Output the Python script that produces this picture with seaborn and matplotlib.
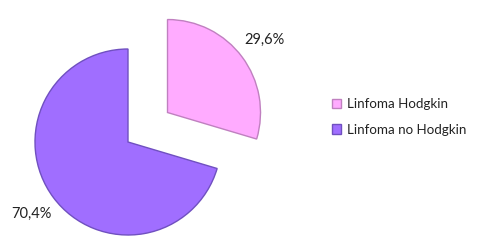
import matplotlib
matplotlib.use("Agg")
import matplotlib.pyplot as plt
import seaborn as sns

categories = ["Linfoma Hodgkin", "Linfoma no Hodgkin"]
values = [29.6, 70.4]
colors = ["#FFABFF", "#A06EFF"]
edges = ["#C080C0", "#7050C0"]

sns.set_theme(style="white")
plt.rcParams["font.family"] = ["Lato", "DejaVu Sans"]

W, H = 483, 248
fig = plt.figure(figsize=(W / 100, H / 100), dpi=100)
ax = fig.add_axes([0, 0, 1, 1])

r_px = 93.0
cx, cy = 128.0, 142.0

wedges, texts, autotexts = ax.pie(
    values,
    colors=colors,
    startangle=90,
    counterclock=False,
    explode=[0.53, 0.0],
    autopct=lambda p: f"{p:.1f}%".replace(".", ","),
    pctdistance=1.3,
    radius=1.0,
    frame=True,
    wedgeprops=dict(linewidth=1.0),
    textprops=dict(fontsize=10.5, color="#222222"),
)
for w, e in zip(wedges, edges):
    w.set_edgecolor(e)
ax.set_xlim(-cx / r_px, (W - cx) / r_px)
ax.set_ylim(-(H - cy) / r_px, cy / r_px)
ax.set_aspect("auto")
ax.set_axis_off()

leg = ax.legend(
    wedges, categories,
    loc="center left",
    bbox_to_anchor=(320 / W, 1 - 117 / H),
    bbox_transform=fig.transFigure,
    frameon=False,
    handlelength=0.7, handleheight=0.7,
    handletextpad=0.4,
    labelspacing=1.0,
    fontsize=9.6,
)
for t in leg.get_texts():
    t.set_color("#222222")

fig.savefig("out.png", dpi=100)
